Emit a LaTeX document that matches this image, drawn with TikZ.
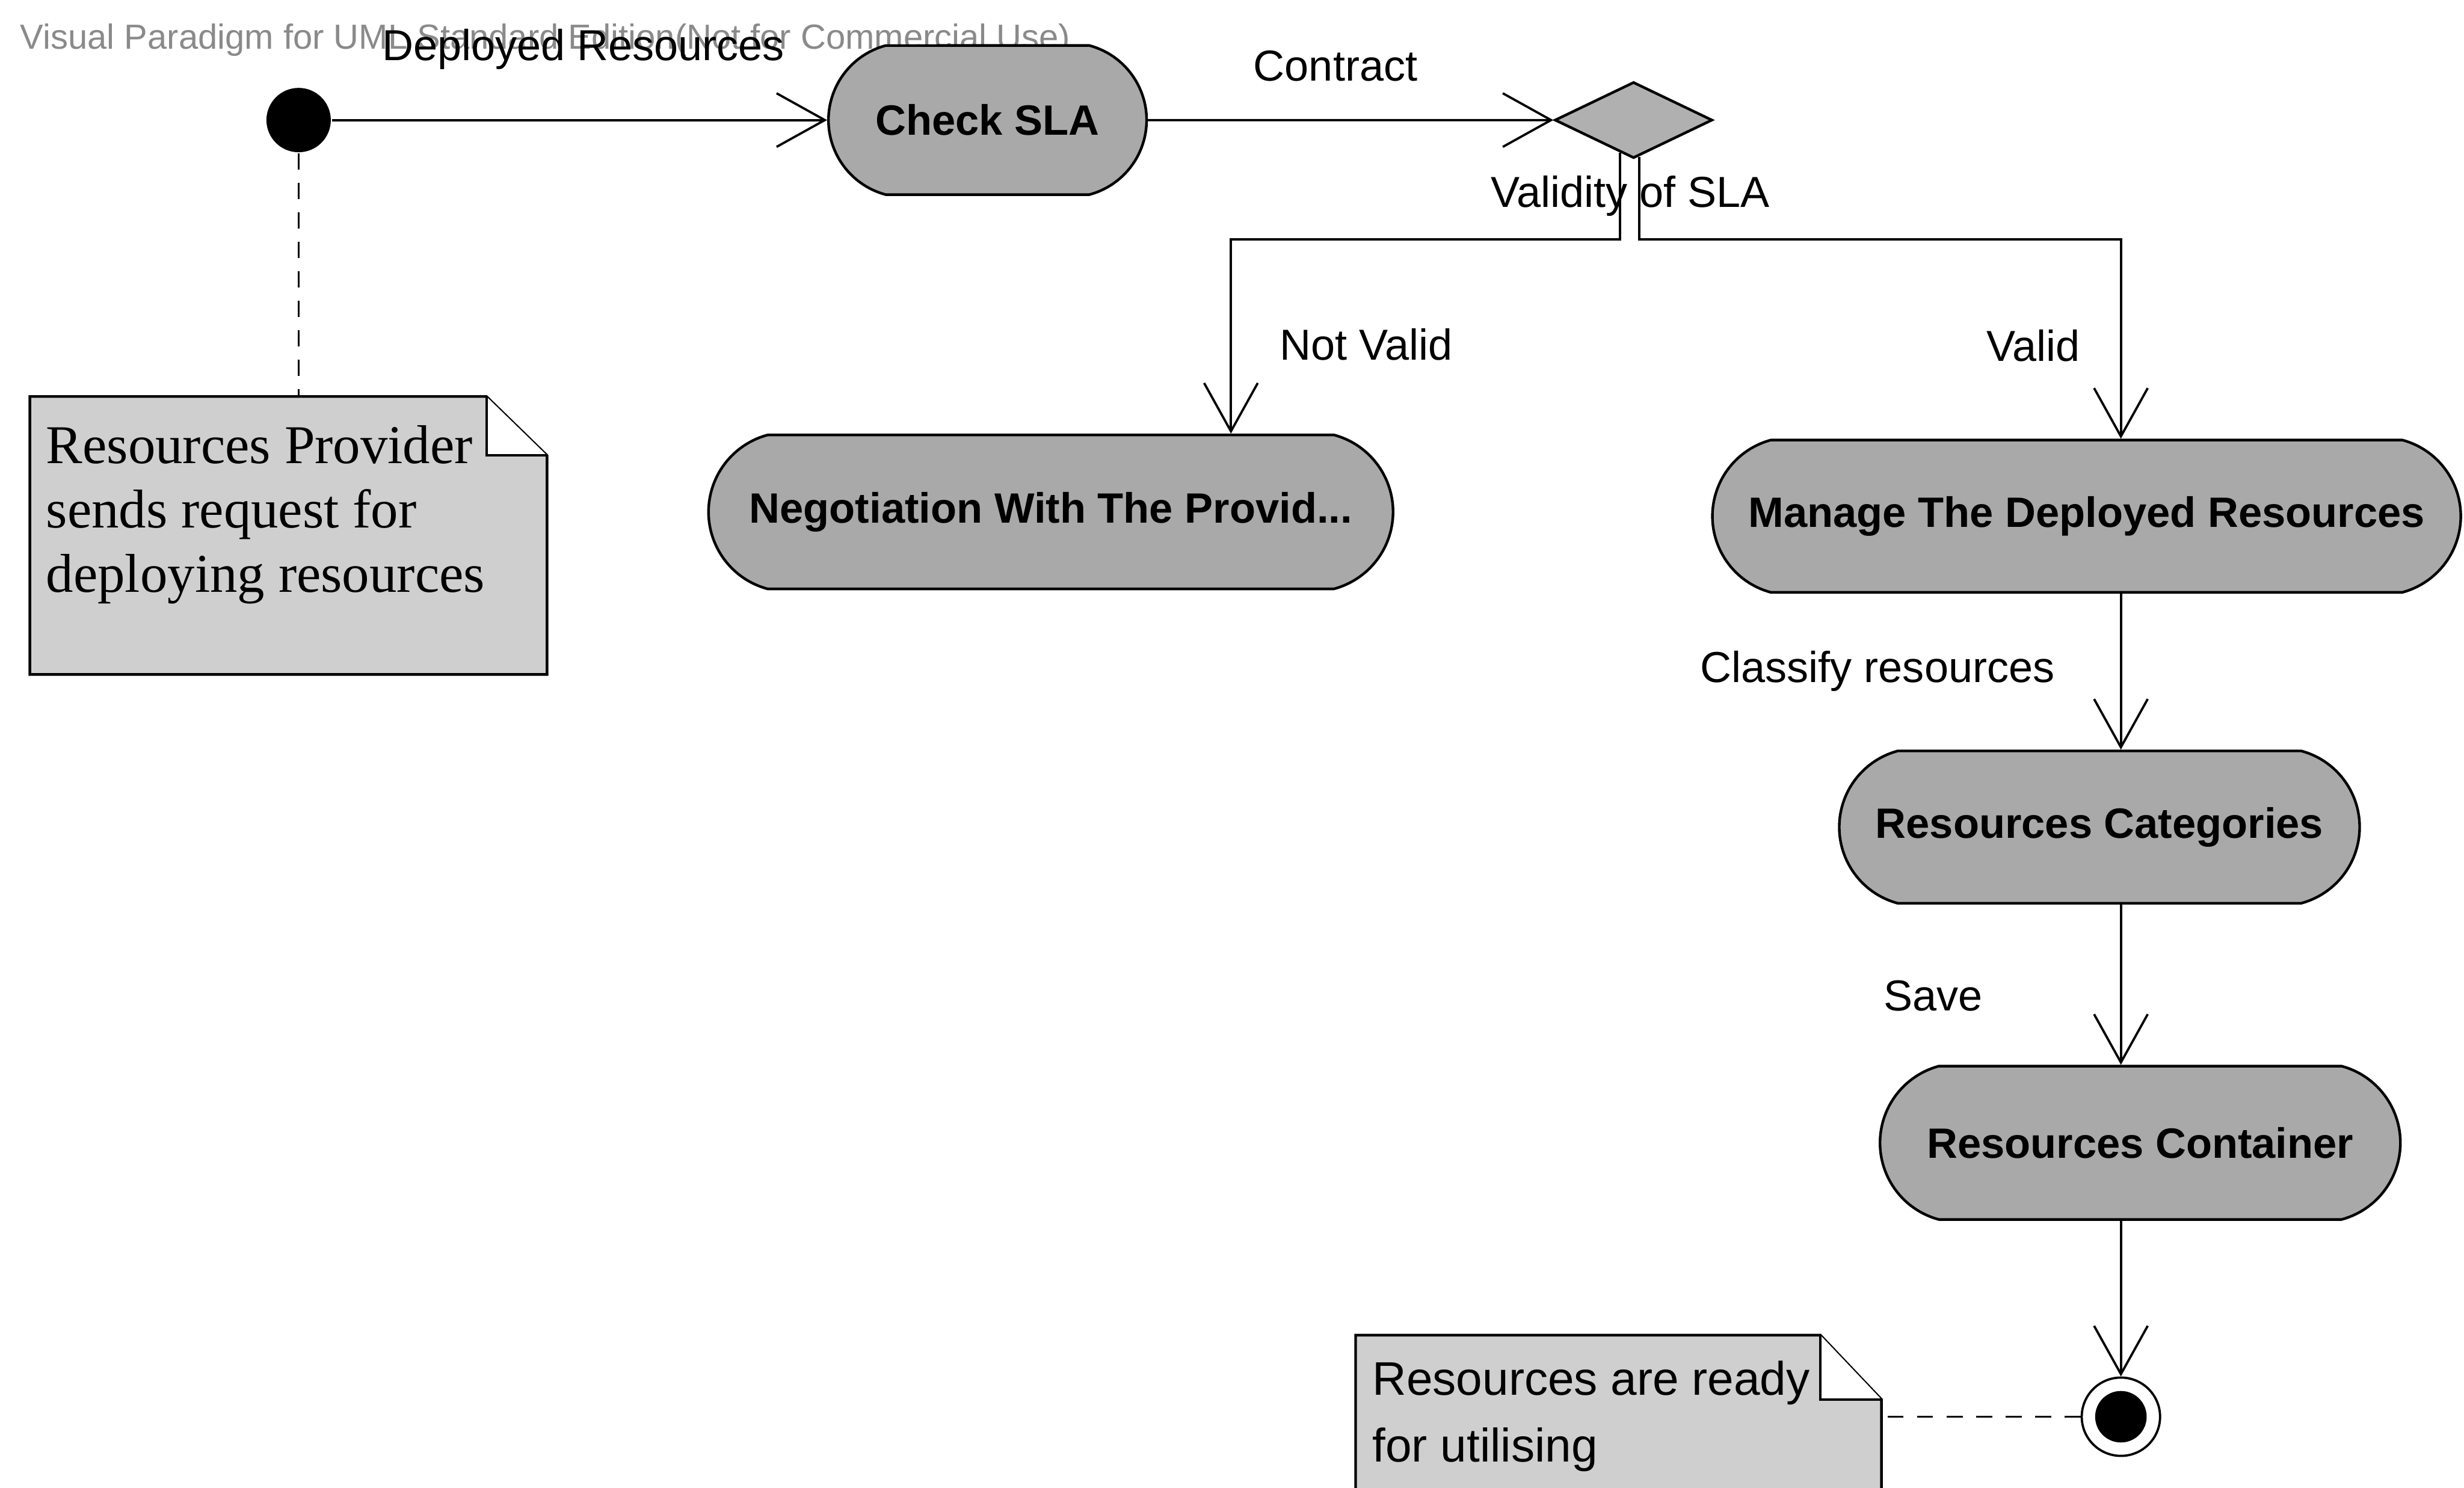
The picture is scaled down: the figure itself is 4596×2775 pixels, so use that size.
\documentclass[tikz,border=0pt]{standalone}
\usepackage{fontspec}
\setmainfont{Liberation Sans}
\newfontfamily\notefont{Liberation Serif}
\usetikzlibrary{shapes.misc,shapes.geometric,arrows.meta,calc}
\definecolor{actfill}{HTML}{A9A9A9}
\definecolor{notefill}{HTML}{CFCFCF}
\definecolor{decfill}{HTML}{B0B0B0}
\definecolor{markgray}{HTML}{8A8A8A}

\begin{document}
\begin{tikzpicture}[x=0.01cm,y=-0.01cm,
  line width=1.2pt,
  act/.style={rounded rectangle, rounded rectangle arc length=150, draw,
    line width=1.4pt, fill=actfill, inner sep=0pt,
    font=\fontsize{22.5}{27}\selectfont\bfseries},
  lbl/.style={inner sep=0pt, font=\fontsize{23}{28}\selectfont},
  flow/.style={-{Straight Barb[length=0.9cm,width=1cm]}},
  tie/.style={dash pattern=on 0.3cm off 0.25cm},
  notebox/.style={inner sep=0pt, draw=none},
  noteedge/.style={draw, line width=1.4pt, fill=notefill},
  notetext/.style={anchor=base west, inner sep=0pt}]

\useasboundingbox (0,0) rectangle (4596,2775);
\clip (0,0) rectangle (4596,2775);

% tool watermark and the first transition label
\node[anchor=west, inner sep=0pt, text=markgray, font=\fontsize{18.5}{22}\selectfont]
  (mark) at (36,75) {Visual Paradigm for UML Standard Edition(Not for Commercial Use)};
\node[lbl] (depllbl) at (1088,92) {Deployed Resources};

% start, first activity and decision
\node[circle, fill=black, minimum size=1.2cm, inner sep=0pt] (init) at (557,224) {};
\node[act, minimum width=5.93cm, minimum height=2.78cm] (check) at (1842,224) {Check SLA};
\node[diamond, draw, fill=decfill, line width=1.4pt, inner sep=0pt,
  minimum width=2.94cm, minimum height=1.42cm] (dec) at (3047,224) {};

% activities
\node[act, minimum width=12.76cm, minimum height=2.87cm] (nego) at (1960,955)
  {Negotiation With The Provid...};
\node[act, minimum width=13.95cm, minimum height=2.84cm] (manage) at (3892,963)
  {Manage The Deployed Resources};
\node[act, minimum width=9.7cm, minimum height=2.84cm] (cat) at (3916,1543)
  {Resources Categories};
\node[act, minimum width=9.7cm, minimum height=2.86cm] (cont) at (3992,2132)
  {Resources Container};

% end state
\node[circle, draw, fill=white, minimum size=1.46cm, inner sep=0pt] (final) at (3956,2643) {};
\fill (final.center) circle (0.48cm);

% transition labels
\node[lbl] (contractlbl) at (2491,123) {Contract};
\node[lbl] (validitylbl) at (3041,366) {Validity of SLA};
\node[lbl] (notvalidlbl) at (2548,643) {Not Valid};
\node[lbl] (validlbl) at (3793,645) {Valid};
\node[lbl] (classifylbl) at (3502,1252) {Classify resources};
\node[lbl] (savelbl) at (3606,1858) {Save};

% branch points below the decision
\coordinate (jl) at (2296,447);
\coordinate (jr) at (3956,447);

% transitions
\draw[flow] (init) -- (check);
\draw[flow] (check) -- (dec);
\draw[flow] ($(dec.south)!0.17!(dec.west)$) |- (jl) -- (jl |- nego.north);
\draw[flow] ($(dec.south)!0.07!(dec.east)$) |- (jr) -- (jr |- manage.north);
\draw[flow] (manage.south -| jr) -- (cat.north -| jr);
\draw[flow] (cat.south -| jr) -- (cont.north -| jr);
\draw[flow] (cont.south -| jr) -- (final.north);

% note attached to the start
\node[notebox, minimum width=9.6cm, minimum height=5.14cm] (note1) at (538,999) {};
\draw[noteedge] (note1.south west) -- (note1.north west)
  -- ([xshift=-1.13cm]note1.north east) -- ([yshift=-1.1cm]note1.north east)
  -- (note1.south east) -- cycle;
\draw[fill=white] ([xshift=-1.13cm]note1.north east)
  -- ([xshift=-1.13cm,yshift=-1.1cm]note1.north east) -- ([yshift=-1.1cm]note1.north east);
\begin{scope}[every node/.style={notetext, font=\notefont\fontsize{29}{34}\selectfont}]
  \node (n1a) at (84,865) {Resources Provider};
  \node (n1b) at (84,985) {sends request for};
  \node (n1c) at (84,1105) {deploying resources};
\end{scope}
\draw[tie] (init.south) -- (init.south |- note1.north);

% note attached to the end state
\node[notebox, minimum width=9.76cm, minimum height=4cm] (note2) at (3019,2693) {};
\draw[noteedge] (note2.south west) -- (note2.north west)
  -- ([xshift=-1.14cm]note2.north east) -- ([yshift=-1.2cm]note2.north east)
  -- (note2.south east) -- cycle;
\draw[fill=white] ([xshift=-1.14cm]note2.north east)
  -- ([xshift=-1.14cm,yshift=-1.2cm]note2.north east) -- ([yshift=-1.2cm]note2.north east);
\begin{scope}[every node/.style={notetext, font=\fontsize{25}{30}\selectfont}]
  \node (n2a) at (2558,2603) {Resources are ready};
  \node (n2b) at (2558,2727) {for utilising};
\end{scope}
\draw[tie] (final.west) -- (final.west -| note2.east);

\end{tikzpicture}
\end{document}
